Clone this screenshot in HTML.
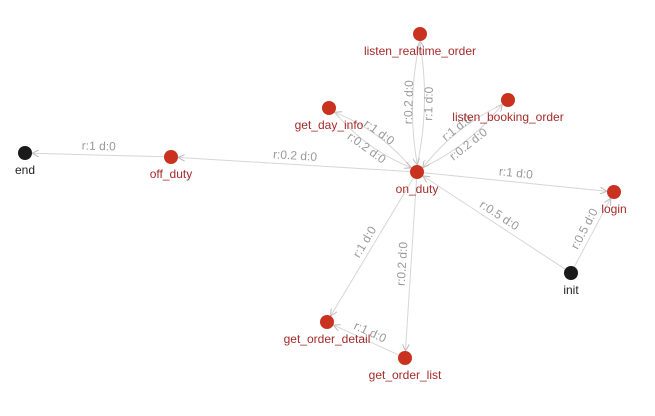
<!DOCTYPE html>
<html><head><meta charset="utf-8"><style>
html,body{margin:0;padding:0;background:#fff;}
svg{display:block;font-family:"Liberation Sans",sans-serif;}
</style></head><body>
<svg id="g" width="655" height="416" viewBox="0 0 655 416">
<defs><marker id="ar" markerWidth="7" markerHeight="7" refX="6" refY="3.5" orient="auto"><path d="M0,0 L7,3.5 L0,7" fill="none" stroke="#bbb" stroke-width="1"/></marker></defs>
<g id="edges"></g><g id="elabels"></g><g id="nodes"></g>
</svg>
<script>
const nodeNames=["listen_realtime_order","listen_booking_order","get_day_info","on_duty","off_duty","end","login","init","get_order_detail","get_order_list"];
const nodeX=[420,508,329,417,171,25,614,571,327,405];
const nodeY=[34,100,108,172,157,153,192,273,322,358];
const nodeBlack=[0,0,0,0,0,1,0,1,0,0];
const edgeFrom=["off_duty","on_duty","on_duty","init","init","on_duty","on_duty","get_order_list","on_duty","listen_realtime_order","on_duty","get_day_info","on_duty","listen_booking_order"];
const edgeTo=["end","off_duty","login","on_duty","login","get_order_detail","get_order_list","get_order_detail","listen_realtime_order","on_duty","get_day_info","on_duty","listen_booking_order","on_duty"];
const edgeLabel=["r:1 d:0","r:0.2 d:0","r:1 d:0","r:0.5 d:0","r:0.5 d:0","r:1 d:0","r:0.2 d:0","r:1 d:0","r:1 d:0","r:0.2 d:0","r:1 d:0","r:0.2 d:0","r:0.2 d:0","r:1 d:0"];
const edgeBend=[0,0,0,0,0,0,0,0,12,12,12,12,12,12];
const NS="http://www.w3.org/2000/svg";
const idx=n=>nodeNames.indexOf(n);
const E=document.getElementById('edges'),L=document.getElementById('elabels'),N=document.getElementById('nodes');
edgeFrom.forEach((f,i)=>{
 const a=idx(f),b=idx(edgeTo[i]);
 const x1=nodeX[a],y1=nodeY[a],x2=nodeX[b],y2=nodeY[b];
 const dx=x2-x1,dy=y2-y1,len=Math.hypot(dx,dy);
 const ux=dx/len,uy=dy/len;
 const sx=x1+ux*7,sy=y1+uy*7,ex=x2-ux*8,ey=y2-uy*8;
 const nx=-uy,ny=ux,bd=edgeBend[i];
 const mx=(sx+ex)/2+nx*bd,my=(sy+ey)/2+ny*bd;
 const p=document.createElementNS(NS,'path');
 p.setAttribute('d',`M${sx},${sy} Q${mx},${my} ${ex},${ey}`);
 p.setAttribute('fill','none');p.setAttribute('stroke','#d6d6d6');p.setAttribute('stroke-width','1');
 p.setAttribute('marker-end','url(#ar)');
 
 
 E.appendChild(p);
 let ang=Math.atan2(dy,dx)*180/Math.PI;
 if(ang>90)ang-=180;if(ang<-90)ang+=180;
 let lx,ly;
 if(bd){const off=bd*0.5+4;lx=(sx+ex)/2+nx*off;ly=(sy+ey)/2+ny*off;}
 else{const r=ang*Math.PI/180;lx=(sx+ex)/2+Math.sin(r)*9;ly=(sy+ey)/2-Math.cos(r)*9;}
 const t=document.createElementNS(NS,'text');
 t.setAttribute('x',lx);t.setAttribute('y',ly+4);
 t.setAttribute('transform',`rotate(${ang} ${lx} ${ly})`);
 t.setAttribute('text-anchor','middle');t.setAttribute('font-size','12');t.setAttribute('fill','#999');
 t.textContent=edgeLabel[i];
 
 
 L.appendChild(t);
});
nodeNames.forEach((n,i)=>{
 const c=document.createElementNS(NS,'circle');
 c.setAttribute('cx',nodeX[i]);c.setAttribute('cy',nodeY[i]);c.setAttribute('r','7');
 c.setAttribute('fill',nodeBlack[i]?'#1a1a1a':'#c8321f');
 
 
 N.appendChild(c);
 const t=document.createElementNS(NS,'text');
 t.setAttribute('x',nodeX[i]);t.setAttribute('y',nodeY[i]+21);
 t.setAttribute('text-anchor','middle');t.setAttribute('font-size','12');
 t.setAttribute('fill',nodeBlack[i]?'#222':'#a52a2a');
 t.textContent=n;
 
 
 N.appendChild(t);
});
</script>
</body></html>
